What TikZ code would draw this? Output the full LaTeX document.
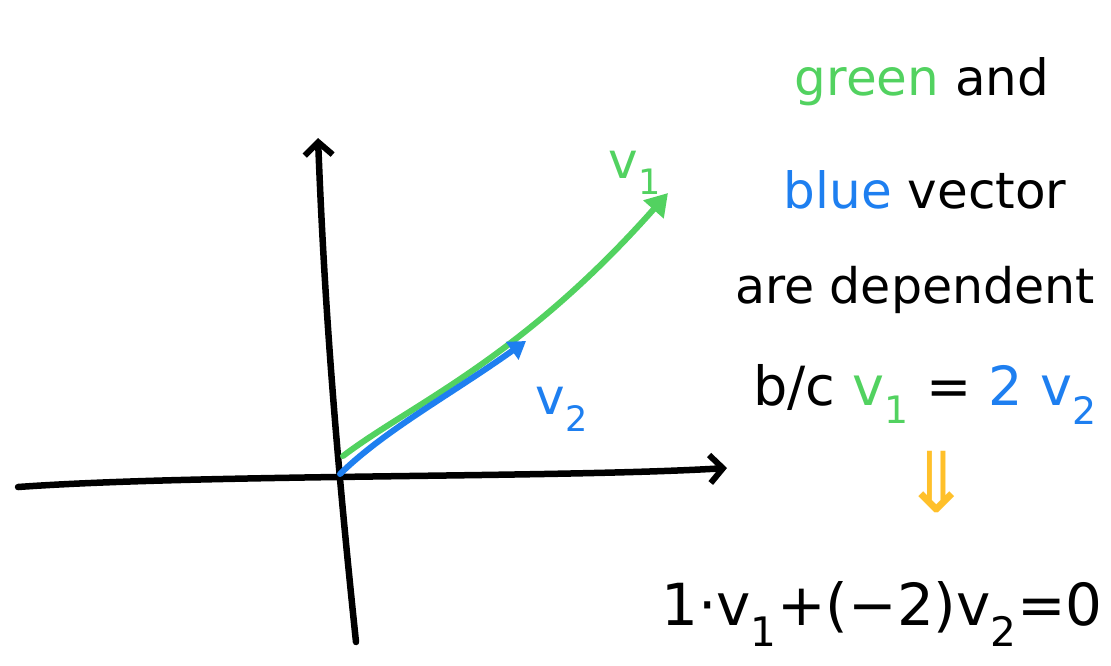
\documentclass[tikz,border=0pt]{standalone}
\usepackage{fontspec}
\setmainfont{DejaVu Sans}
\usetikzlibrary{arrows.meta}
\definecolor{vgreen}{RGB}{82,210,96}
\definecolor{vblue}{RGB}{30,127,240}
\definecolor{vyellow}{RGB}{255,192,42}
\tikzset{
  axis/.style={line width=6.5pt, line cap=round, black, -{Straight Barb[length=13pt,width=28pt,line width=6pt]}},
  gvec/.style={line width=6pt, line cap=round, vgreen, -{Triangle[length=22pt,width=26pt]}},
  bvec/.style={line width=6pt, line cap=round, vblue, -{Triangle[length=17pt,width=21pt]}},
  txt/.style={anchor=base, inner sep=0pt, font=\fontsize{50}{54}\selectfont},
  lbl/.style={anchor=base, inner sep=0pt, font=\fontsize{50}{54}\selectfont},
}
\newcommand{\sbs}[1]{\textsubscript{#1}}
\begin{document}
\begin{tikzpicture}[x=1pt,y=-1pt]
\useasboundingbox (0,0) rectangle (1111,665);
% axes
\coordinate (xs) at (18,487);
\coordinate (xe) at (727,468);
\coordinate (yb) at (356,642);
\coordinate (yt) at (318,138);
\draw[axis] (xs) .. controls (200,474) and (560,478) .. (xe);
\draw[axis] (yb) .. controls (338,470) and (325,320) .. (yt);
% vectors
\coordinate (g0) at (343,456);
\coordinate (g1) at (668,193);
\coordinate (b0) at (340,474);
\coordinate (b1) at (526,341);
\draw[gvec] (g0) .. controls (410,405) and (520,360) .. (g1);
\draw[bvec] (b0) .. controls (385,430) and (450,395) .. (b1);
\node[lbl, text=vgreen] (l1) at (635,178) {v\sbs{1}};
\node[lbl, text=vblue] (l2) at (562,414) {v\sbs{2}};
% text
\node[txt] (t1) at (922,95) {\textcolor{vgreen}{green} and};
\node[txt] (t2) at (925,208) {\textcolor{vblue}{blue} vector};
\node[txt, font=\fontsize{49}{54}\selectfont] (t3) at (915,303) {are dependent};
\node[txt, font=\fontsize{54}{58}\selectfont] (t4) at (925,405) {b/c \textcolor{vgreen}{v\sbs{1}} = \textcolor{vblue}{2 v\sbs{2}}};
\node[anchor=center, inner sep=0pt, text=vyellow, font=\fontsize{84}{90}\selectfont] (arr) at (937,482) {⇓};
\node[txt, font=\fontsize{58}{62}\selectfont] (t5) at (882,625) {1·v\sbs{1}+(−2)v\sbs{2}=0};
\end{tikzpicture}
\end{document}
